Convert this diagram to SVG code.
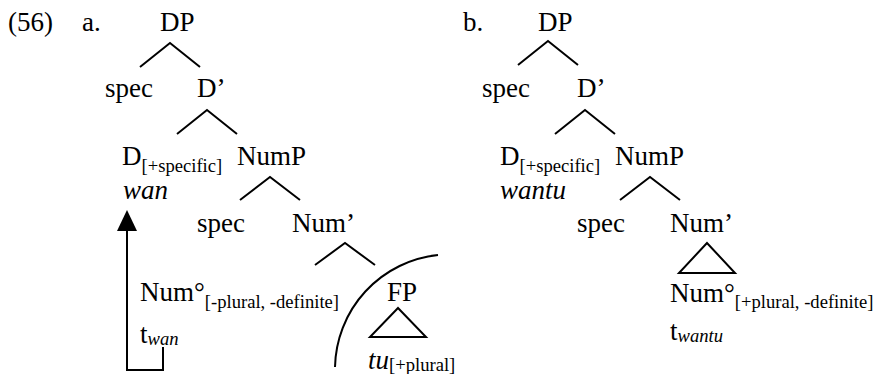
<svg xmlns="http://www.w3.org/2000/svg" width="881" height="374" viewBox="0 0 881 374">
<style>
text{font-family:"Liberation Serif","Times New Roman",serif;fill:#000}
.m{font-size:27px}
.s{font-size:18.6px}
.i{font-style:italic}
.e{stroke:#000;stroke-width:2;fill:none}
</style>
<rect width="881" height="374" fill="#fff"/>
<g id="labels">
<text class="m" x="8" y="31">(56)</text>
<text class="m" x="82" y="31">a.</text>
<text class="m" x="463" y="31">b.</text>
</g>
<!-- tree a -->
<g id="a-DP"><text class="m" x="160" y="31">DP</text></g>
<g id="a-spec1"><text class="m" x="105" y="97">spec</text></g>
<g id="a-Dbar"><text class="m" x="197" y="97">D’</text></g>
<g id="a-D"><text class="m" x="122" y="165">D<tspan class="s" dy="7">[+specific]</tspan></text><text class="m i" x="123" y="199">wan</text></g>
<g id="a-NumP"><text class="m" x="237" y="165">NumP</text></g>
<g id="a-spec2"><text class="m" x="197" y="232">spec</text></g>
<g id="a-Numbar"><text class="m" x="292" y="232">Num’</text></g>
<g id="a-Num"><text class="m" x="140" y="301">Num°<tspan class="s" dy="7">[-plural, -definite]</tspan></text><text class="m" x="140" y="343">t<tspan class="s i" dy="2">wan</tspan></text></g>
<g id="a-FP"><text class="m" x="387" y="301">FP</text><polygon class="e" points="398,308 370,337 426,337"/><text class="m i" x="368" y="369">tu<tspan class="s" font-style="normal" dy="2">[+plural]</tspan></text></g>
<!-- tree b -->
<g id="b-DP"><text class="m" x="538" y="31">DP</text></g>
<g id="b-spec1"><text class="m" x="482" y="97">spec</text></g>
<g id="b-Dbar"><text class="m" x="577" y="97">D’</text></g>
<g id="b-D"><text class="m" x="500" y="165">D<tspan class="s" dy="7">[+specific]</tspan></text><text class="m i" x="500" y="199">wantu</text></g>
<g id="b-NumP"><text class="m" x="615" y="165">NumP</text></g>
<g id="b-spec2"><text class="m" x="577" y="232">spec</text></g>
<g id="b-Numbar"><text class="m" x="670" y="232">Num’</text></g>
<g id="b-Num"><polygon class="e" points="707,243 679,273 735,273"/><text class="m" x="670" y="302">Num°<tspan class="s" dy="6">[+plural, -definite]</tspan></text><text class="m" x="670" y="340">t<tspan class="s i" dy="2">wantu</tspan></text></g>
<g id="connectors">
<path class="e" d="M140,67 L170,43 L200,67"/>
<path class="e" d="M177,134 L207,110 L237,134"/>
<path class="e" d="M240,200 L270,177 L300,200"/>
<path class="e" d="M315,265 L345,243 L375,265"/>
<path class="e" d="M518,65 L548,41 L578,65"/>
<path class="e" d="M555,134 L585,110 L615,134"/>
<path class="e" d="M620,200 L650,177 L680,200"/>
<path class="e" d="M163,347 L163,370 L127,370 L127,229"/>
<polygon points="127,210 117,231 137,231" fill="#000"/>
<path class="e" d="M335,367 A115,115 0 0 1 438,255"/>
</g>
</svg>
